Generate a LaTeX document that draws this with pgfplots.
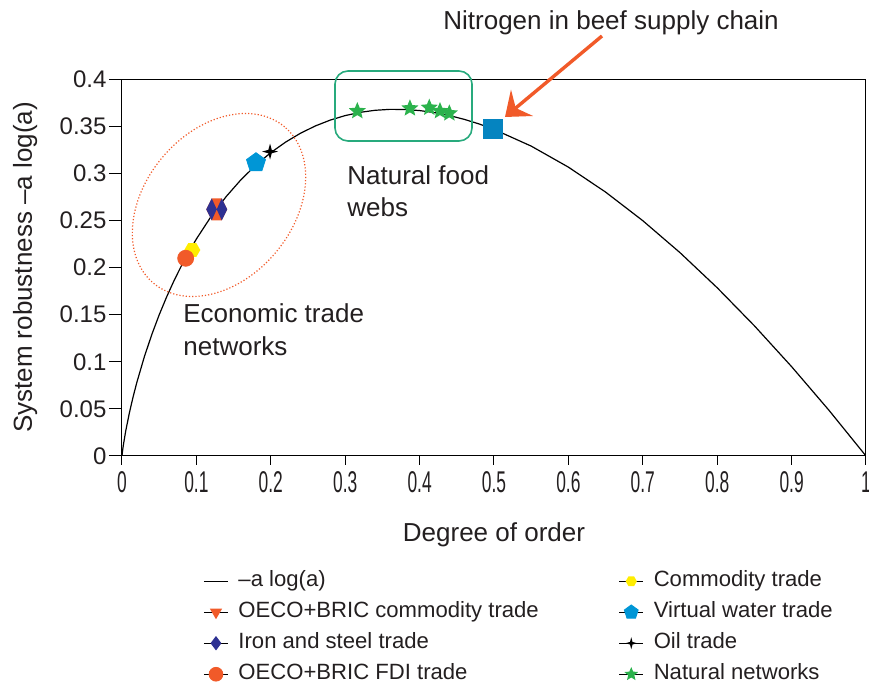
\documentclass[border=0pt]{standalone}
\usepackage{fontspec}
\setmainfont{Liberation Sans}
\newfontfamily\condfont[FakeStretch=0.58]{Liberation Sans}
\usepackage{pgfplots}
\pgfplotsset{compat=1.18}
\usetikzlibrary{arrows.meta,plotmarks}
\definecolor{txt}{RGB}{35,31,32}
\definecolor{orng}{RGB}{241,90,41}
\definecolor{navy}{RGB}{46,49,146}
\definecolor{yel}{RGB}{255,237,0}
\definecolor{lblue}{RGB}{0,150,214}
\definecolor{sqblue}{RGB}{5,132,192}
\definecolor{sgreen}{RGB}{43,178,76}
\definecolor{rgreen}{RGB}{40,170,125}

\pgfdeclareplotmark{hex*}{%
  \pgfpathmoveto{\pgfqpointpolar{0}{\pgfplotmarksize}}%
  \pgfpathlineto{\pgfqpointpolar{60}{\pgfplotmarksize}}%
  \pgfpathlineto{\pgfqpointpolar{120}{\pgfplotmarksize}}%
  \pgfpathlineto{\pgfqpointpolar{180}{\pgfplotmarksize}}%
  \pgfpathlineto{\pgfqpointpolar{240}{\pgfplotmarksize}}%
  \pgfpathlineto{\pgfqpointpolar{300}{\pgfplotmarksize}}%
  \pgfpathclose\pgfusepathqfill}
\pgfdeclareplotmark{ohex}{%
  \pgfpathmoveto{\pgfpoint{2.5pt}{5.5pt}}%
  \pgfpathlineto{\pgfpoint{-2.5pt}{5.5pt}}%
  \pgfpathlineto{\pgfpoint{-5.25pt}{0pt}}%
  \pgfpathlineto{\pgfpoint{-2.5pt}{-5.5pt}}%
  \pgfpathlineto{\pgfpoint{2.5pt}{-5.5pt}}%
  \pgfpathlineto{\pgfpoint{5.25pt}{0pt}}%
  \pgfpathclose\pgfusepathqfill}
\pgfdeclareplotmark{nbow}{%
  \pgfpathmoveto{\pgfpoint{0pt}{0pt}}%
  \pgfpathlineto{\pgfpoint{-2.5pt}{5.5pt}}%
  \pgfpathlineto{\pgfpoint{-5.25pt}{0pt}}%
  \pgfpathlineto{\pgfpoint{-2.5pt}{-5.5pt}}%
  \pgfpathclose
  \pgfpathmoveto{\pgfpoint{0pt}{0pt}}%
  \pgfpathlineto{\pgfpoint{2.5pt}{5.5pt}}%
  \pgfpathlineto{\pgfpoint{5.25pt}{0pt}}%
  \pgfpathlineto{\pgfpoint{2.5pt}{-5.5pt}}%
  \pgfpathclose\pgfusepathqfill}
\pgfdeclareplotmark{star4*}{%
  \pgfpathmoveto{\pgfqpointpolar{0}{\pgfplotmarksize}}%
  \pgfpathlineto{\pgfqpointpolar{45}{0.3\pgfplotmarksize}}%
  \pgfpathlineto{\pgfqpointpolar{90}{\pgfplotmarksize}}%
  \pgfpathlineto{\pgfqpointpolar{135}{0.3\pgfplotmarksize}}%
  \pgfpathlineto{\pgfqpointpolar{180}{\pgfplotmarksize}}%
  \pgfpathlineto{\pgfqpointpolar{225}{0.3\pgfplotmarksize}}%
  \pgfpathlineto{\pgfqpointpolar{270}{\pgfplotmarksize}}%
  \pgfpathlineto{\pgfqpointpolar{315}{0.3\pgfplotmarksize}}%
  \pgfpathclose\pgfusepathqfill}
\pgfdeclareplotmark{star5*}{%
  \pgfpathmoveto{\pgfqpointpolar{90}{\pgfplotmarksize}}%
  \pgfpathlineto{\pgfqpointpolar{126}{0.45\pgfplotmarksize}}%
  \pgfpathlineto{\pgfqpointpolar{162}{\pgfplotmarksize}}%
  \pgfpathlineto{\pgfqpointpolar{198}{0.45\pgfplotmarksize}}%
  \pgfpathlineto{\pgfqpointpolar{234}{\pgfplotmarksize}}%
  \pgfpathlineto{\pgfqpointpolar{270}{0.45\pgfplotmarksize}}%
  \pgfpathlineto{\pgfqpointpolar{306}{\pgfplotmarksize}}%
  \pgfpathlineto{\pgfqpointpolar{342}{0.45\pgfplotmarksize}}%
  \pgfpathlineto{\pgfqpointpolar{18}{\pgfplotmarksize}}%
  \pgfpathlineto{\pgfqpointpolar{54}{0.45\pgfplotmarksize}}%
  \pgfpathclose\pgfusepathqfill}

\begin{document}
\begin{tikzpicture}
\path[use as bounding box] (0pt,0pt) rectangle (434.5pt,-341.5pt);
\begin{axis}[
  at={(61pt,-228pt)}, anchor=south west,
  width=372pt, height=188.5pt, scale only axis,
  xmin=0, xmax=1, ymin=0, ymax=0.4,
  xtick={0,0.1,0.2,0.3,0.4,0.5,0.6,0.7,0.8,0.9,1},
  xticklabels={0,0.1,0.2,0.3,0.4,0.5,0.6,0.7,0.8,0.9,1},
  ytick={0,0.05,0.1,0.15,0.2,0.25,0.3,0.35,0.4},
  yticklabels={0,0.05,0.1,0.15,0.2,0.25,0.3,0.35,0.4},
  tick pos=left, tick align=outside,
  /pgf/number format/assume math mode=true,
  axis line style={black, line width=0.5pt},
  tick style={black, line width=0.5pt},
  xtick style={/pgfplots/major tick length=4.5pt},
  ytick style={/pgfplots/major tick length=6.5pt},
  xticklabel style={font=\condfont\fontsize{15}{17}\selectfont, text=txt},
  yticklabel style={font=\fontsize{12}{14}\selectfont, text=txt},
  xlabel={Degree of order},
  ylabel={System robustness –a log(a)},
  label style={font=\fontsize{13}{15.6}\selectfont, text=txt},
  xlabel style={at={(axis description cs:0.5,0)}, anchor=base, yshift=-43pt},
  ylabel style={at={(axis description cs:-0.121,0.5)}, anchor=base, rotate=0},
  legend style={at={(axis description cs:0.109,-0.298)}, anchor=north west,
    draw=none, fill=none, inner sep=0pt, text=txt,
    font=\fontsize{11.05}{13}\selectfont,
    nodes={inner sep=1pt, text height=8pt, text depth=2.5pt},
    row sep=3pt,
    /tikz/every odd column/.append style={column sep=4pt},
    /tikz/every even column/.append style={column sep=39pt}},
  legend columns=2, legend cell align=left,
  legend image code/.code={\draw[mark repeat=2,mark phase=2,#1] plot coordinates {(0pt,0pt) (6pt,0pt) (12pt,0pt)};},
]
% curve -a ln(a)
\addplot[black, line width=0.6pt, forget plot] coordinates {
(0,0) (0.0001,0.000921) (0.001,0.006908) (0.002,0.012429) (0.005,0.026492)
(0.01,0.046052) (0.015,0.062995) (0.02,0.078240) (0.03,0.105197) (0.04,0.128755)
(0.05,0.149787) (0.06,0.168803) (0.07,0.186148) (0.08,0.202058) (0.09,0.216711)
(0.10,0.230259) (0.12,0.254432) (0.14,0.275256) (0.16,0.293213) (0.18,0.308664)
(0.20,0.321888) (0.22,0.333108) (0.24,0.342508) (0.26,0.350239) (0.28,0.356430)
(0.30,0.361192) (0.32,0.364619) (0.34,0.366795) (0.36,0.367794) (0.38,0.367682)
(0.40,0.366516) (0.42,0.364350) (0.44,0.361231) (0.46,0.357203) (0.48,0.352305)
(0.50,0.346574) (0.55,0.328810) (0.60,0.306495) (0.65,0.280009) (0.70,0.249672)
(0.75,0.215762) (0.80,0.178515) (0.85,0.138141) (0.90,0.094825) (0.95,0.048729)
(1,0)};
% data points
\addplot[only marks, forget plot, mark=hex*, mark size=4pt, color=yel] coordinates {(0.0945,0.2186)};
\addplot[only marks, forget plot, mark=*, mark size=4pt, color=orng] coordinates {(0.0856,0.2098)};
\addplot[only marks, forget plot, mark=ohex, color=orng] coordinates {(0.1273,0.2617)};
\addplot[only marks, forget plot, mark=nbow, color=navy] coordinates {(0.1273,0.2617)};
\addplot[only marks, forget plot, mark=pentagon*, mark size=5pt, color=lblue] coordinates {(0.1801,0.3112)};
\addplot[only marks, forget plot, mark=star4*, mark size=4pt, color=black] coordinates {(0.1990,0.3230)};
\addplot[only marks, forget plot, mark=square*, mark size=4.7pt, color=sqblue] coordinates {(0.4990,0.3467)};
\addplot[only marks, forget plot, mark=star5*, mark size=4.5pt, color=sgreen] coordinates {
(0.3163,0.3660) (0.3870,0.3689) (0.4130,0.3696) (0.4274,0.3660) (0.4400,0.3636)};
% legend
\addlegendimage{black, line width=0.5pt}
\addlegendentry{–a log(a)}
\addlegendimage{black, line width=0.5pt, mark=hex*, mark size=2.8pt, mark options={color=yel}}
\addlegendentry{Commodity trade}
\addlegendimage{black, line width=0.5pt, mark=triangle*, mark size=3pt, mark options={color=orng, rotate=180}}
\addlegendentry{OECO+BRIC commodity trade}
\addlegendimage{black, line width=0.5pt, mark=pentagon*, mark size=3.6pt, mark options={color=lblue}}
\addlegendentry{Virtual water trade}
\addlegendimage{black, line width=0.5pt, mark=diamond*, mark size=3.2pt, mark options={color=navy}}
\addlegendentry{Iron and steel trade}
\addlegendimage{black, line width=0.5pt, mark=star4*, mark size=3pt, mark options={color=black}}
\addlegendentry{Oil trade}
\addlegendimage{black, line width=0.5pt, mark=*, mark size=3.4pt, mark options={color=orng}}
\addlegendentry{OECO+BRIC FDI trade}
\addlegendimage{black, line width=0.5pt, mark=star5*, mark size=3.6pt, mark options={color=sgreen}}
\addlegendentry{Natural networks}
\end{axis}
\begin{scope}[x=0.5pt,y=-0.5pt]
\draw[orng, line width=0.6pt, densely dotted, rotate around={50:(109.5pt,-102.5pt)}] (109.5pt,-102.5pt) ellipse (51pt and 37pt);
\draw[rgreen, line width=0.8pt, rounded corners=6.5pt] (335,71) rectangle (472,141);
\draw[orng, line width=1.7pt, -{Stealth[length=11pt,width=17pt,inset=4pt]}] (602,36) -- (505,117);
\begin{scope}[every node/.style={anchor=base west, inner sep=0pt, text=txt, font=\fontsize{13}{15.6}\selectfont}]
\node at (443,30) {Nitrogen in beef supply chain};
\node at (347,185) {Natural food};
\node at (347,217) {webs};
\node at (183,323) {Economic trade};
\node at (183,356) {networks};
\end{scope}
\end{scope}
\end{tikzpicture}
\end{document}
